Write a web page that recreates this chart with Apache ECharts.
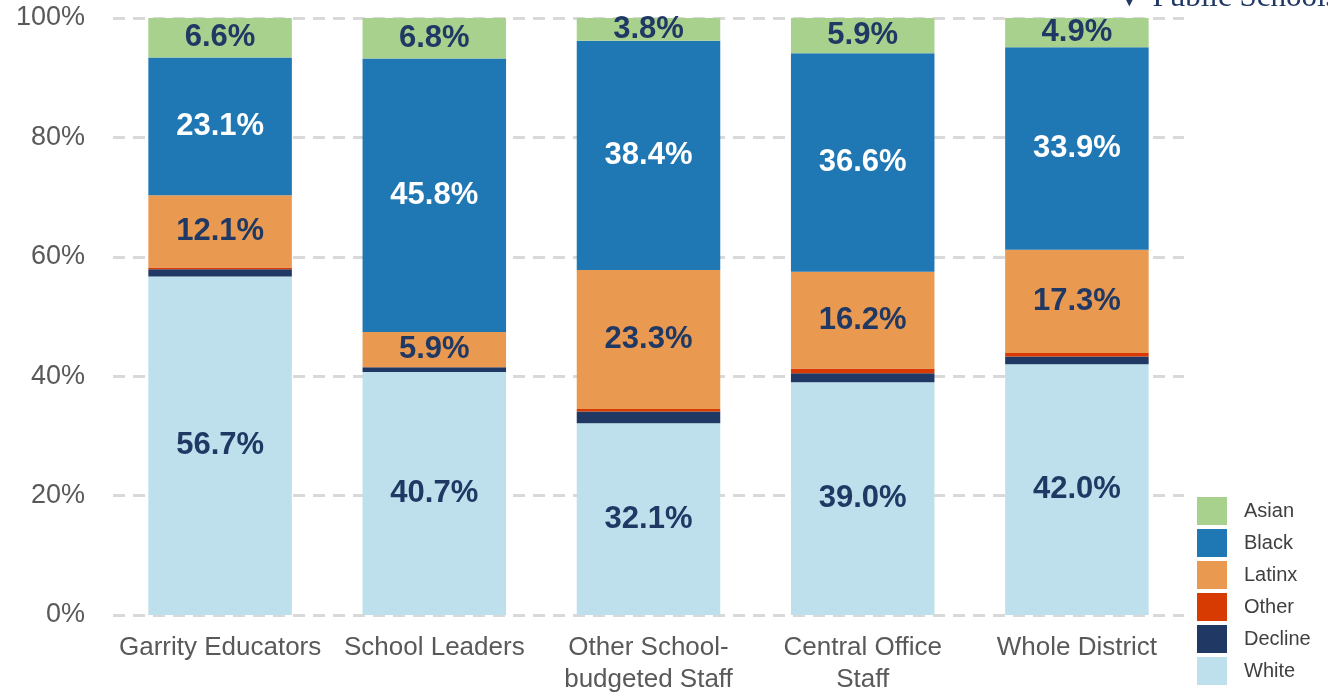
<!DOCTYPE html>
<html>
<head>
<meta charset="utf-8">
<script src="https://cdn.jsdelivr.net/npm/echarts@6/dist/echarts.min.js"></script>
<style>
  html, body { margin: 0; padding: 0; background: #fff; }
  #chart { width: 1328px; height: 694px; }
</style>
</head>
<body>
<div id="chart"></div>
<script>
var categories = ['Garrity Educators', 'School Leaders', 'Other School-\nbudgeted Staff', 'Central Office\nStaff', 'Whole District'];
var white   = [56.7, 40.7, 32.1, 39.0, 42.0];
var decline = [1.2, 0.8, 2.0, 1.5, 1.3];
var other   = [0.3, 0.0, 0.4, 0.8, 0.6];
var latinx  = [12.1, 5.9, 23.3, 16.2, 17.3];
var black   = [23.1, 45.8, 38.4, 36.6, 33.9];
var asian   = [6.6, 6.8, 3.8, 5.9, 4.9];
var yTicks  = [0, 20, 40, 60, 80, 100];

var dom = document.getElementById('chart');
var myChart = echarts.init(dom, null, { renderer: 'canvas' });

function label(color) {
    return {
        show: true,
        position: 'inside',
        formatter: function (p) { return p.value.toFixed(1) + '%'; },
        color: color,
        fontFamily: 'Liberation Sans',
        fontWeight: 'bold',
        fontSize: 31
    };
}

function series(name, data, color, lbl) {
    return {
        name: name,
        type: 'bar',
        stack: 'total',
        barWidth: '67%',
        data: data,
        itemStyle: { color: color },
        label: lbl ? label(lbl) : { show: false },
        emphasis: { disabled: true }
    };
}

var option = {
    animation: false,
    textStyle: { fontFamily: 'Liberation Sans' },
    grid: { left: 113, right: 144, top: 18, bottom: 79, containLabel: false, outerBoundsMode: 'none' },
    legend: {
        orient: 'vertical',
        left: 1192,
        top: 492,
        itemWidth: 30,
        itemHeight: 28,
        itemGap: 4,
        icon: 'rect',
        textStyle: { fontSize: 20, color: '#404040', padding: [0, 0, 0, 12] },
        data: ['Asian', 'Black', 'Latinx', 'Other', 'Decline', 'White']
    },
    xAxis: {
        type: 'category',
        data: categories,
        axisLine: { show: false },
        axisTick: { show: false },
        axisLabel: { color: '#595959', fontSize: 26, lineHeight: 32, margin: 17, interval: 0 }
    },
    yAxis: {
        type: 'value',
        min: yTicks[0],
        max: yTicks[yTicks.length - 1],
        interval: 20,
        axisLine: { show: false },
        axisTick: { show: false },
        axisLabel: { color: '#595959', fontSize: 27, margin: 28, formatter: '{value}%' },
        splitLine: { lineStyle: { color: '#D9D9D9', width: 3, type: [12, 8] } }
    },
    graphic: [{
        type: 'text',
        left: 1114,
        top: -18,
        style: { text: '\u25BC Public Schools', fill: '#1F3864', font: '31px "Liberation Serif"' }
    }],
    series: [
        series('White', white, '#BEE0EC', '#1F3864'),
        series('Decline', decline, '#1F3864'),
        series('Other', other, '#D83B01'),
        series('Latinx', latinx, '#E99A50', '#1F3864'),
        series('Black', black, '#1F77B4', '#ffffff'),
        series('Asian', asian, '#A9D18E', '#1F3864')
    ]
};

myChart.setOption(option);
window.addEventListener('resize', myChart.resize);
</script>
</body>
</html>
